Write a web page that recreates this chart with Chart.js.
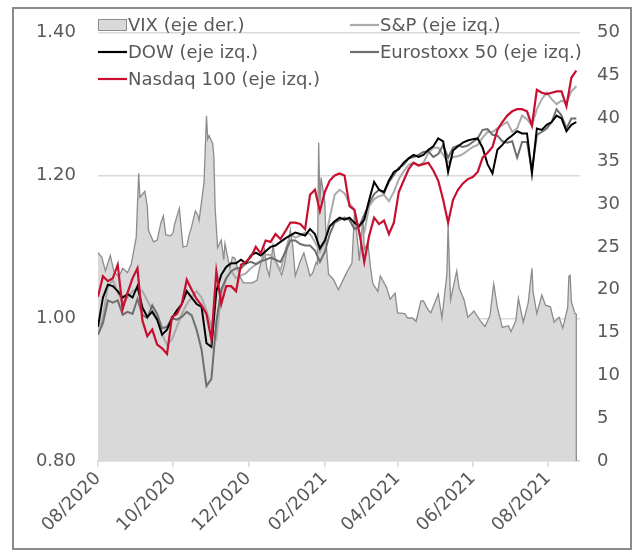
<!DOCTYPE html>
<html><head><meta charset="utf-8">
<script src="https://cdn.jsdelivr.net/npm/chart.js@4.4.0/dist/chart.umd.min.js"></script>
<style>
html,body{margin:0;padding:0;background:#fff;}
#wrap{position:relative;width:639px;height:557px;}
#frame{position:absolute;left:12px;top:7px;width:620px;height:543px;border:2px solid #8a8a8a;box-sizing:border-box;}
canvas{position:absolute;left:0;top:0;}
</style></head><body>
<div id="wrap"><div id="frame"></div><canvas id="c" width="639" height="557"></canvas></div>
<script>
const startDate = '2020-08-01';
const endDate = '2021-08-27';
const tickDates = ['2020-08-01','2020-10-01','2020-12-01','2021-02-01','2021-04-01','2021-06-01','2021-08-01'];
const tickLabels = ['08/2020','10/2020','12/2020','02/2021','04/2021','06/2021','08/2021'];
const leftTicks = [0.80, 1.00, 1.20, 1.40];

const seriesNames = ['VIX (eje der.)','S&P (eje izq.)','DOW (eje izq.)','Eurostoxx 50 (eje izq.)','Nasdaq 100 (eje izq.)'];

const vixDates = ['2020-07-31','2020-08-04','2020-08-07','2020-08-11','2020-08-14','2020-08-18','2020-08-21','2020-08-25','2020-08-28','2020-09-01','2020-09-03','2020-09-04','2020-09-08','2020-09-10','2020-09-11','2020-09-15','2020-09-18','2020-09-21','2020-09-23','2020-09-25','2020-09-29','2020-10-01','2020-10-02','2020-10-06','2020-10-08','2020-10-09','2020-10-12','2020-10-14','2020-10-16','2020-10-19','2020-10-21','2020-10-22','2020-10-26','2020-10-28','2020-10-29','2020-10-30','2020-11-02','2020-11-03','2020-11-04','2020-11-06','2020-11-09','2020-11-11','2020-11-12','2020-11-16','2020-11-18','2020-11-20','2020-11-24','2020-11-27','2020-12-01','2020-12-04','2020-12-08','2020-12-10','2020-12-14','2020-12-16','2020-12-18','2020-12-21','2020-12-23','2020-12-28','2020-12-30','2021-01-04','2021-01-06','2021-01-08','2021-01-12','2021-01-15','2021-01-20','2021-01-22','2021-01-25','2021-01-26','2021-01-27','2021-01-28','2021-01-29','2021-02-01','2021-02-02','2021-02-04','2021-02-08','2021-02-12','2021-02-17','2021-02-19','2021-02-23','2021-02-25','2021-02-26','2021-03-01','2021-03-04','2021-03-05','2021-03-08','2021-03-10','2021-03-12','2021-03-16','2021-03-18','2021-03-23','2021-03-26','2021-03-30','2021-04-01','2021-04-07','2021-04-09','2021-04-13','2021-04-16','2021-04-20','2021-04-22','2021-04-26','2021-04-28','2021-05-04','2021-05-07','2021-05-11','2021-05-12','2021-05-13','2021-05-14','2021-05-19','2021-05-21','2021-05-25','2021-05-28','2021-06-02','2021-06-07','2021-06-11','2021-06-15','2021-06-18','2021-06-21','2021-06-25','2021-06-30','2021-07-02','2021-07-06','2021-07-08','2021-07-12','2021-07-16','2021-07-19','2021-07-20','2021-07-23','2021-07-27','2021-07-30','2021-08-03','2021-08-06','2021-08-10','2021-08-13','2021-08-17','2021-08-18','2021-08-19','2021-08-20','2021-08-23','2021-08-24'];
const vixValues = [24.5,23.8,22.2,24.0,22.1,21.5,22.5,22.0,23.0,26.1,33.6,30.8,31.5,29.7,26.9,25.6,25.8,27.8,28.6,26.4,26.3,26.7,27.6,29.5,26.4,25.0,25.1,26.4,27.4,29.2,28.7,28.1,32.5,40.3,37.6,38.0,37.1,35.6,29.6,24.9,25.8,23.5,25.4,22.5,23.8,23.7,21.6,20.8,20.8,20.8,21.1,22.5,24.7,22.5,21.6,25.2,23.3,21.7,22.8,27.0,25.1,21.6,23.3,24.3,21.6,21.9,23.2,23.0,37.2,30.2,33.1,30.2,25.6,21.8,21.2,20.0,21.5,22.1,23.1,28.9,28.0,23.4,28.6,24.7,25.5,22.6,20.7,19.8,21.6,20.3,18.9,19.6,17.3,17.2,16.7,16.7,16.3,18.7,18.7,17.6,17.3,19.5,16.7,21.8,27.6,23.1,18.8,22.2,20.2,18.8,16.8,17.5,16.4,15.7,17.0,20.7,17.9,15.6,15.8,15.1,16.4,19.0,16.2,18.5,22.5,19.7,17.2,19.4,18.2,18.0,16.2,16.8,15.5,17.9,21.6,21.7,18.6,17.2,17.2];

const stockDates = ['2020-08-01','2020-08-05','2020-08-09','2020-08-13','2020-08-17','2020-08-21','2020-08-25','2020-08-29','2020-09-02','2020-09-06','2020-09-10','2020-09-14','2020-09-18','2020-09-22','2020-09-26','2020-09-30','2020-10-04','2020-10-08','2020-10-12','2020-10-16','2020-10-20','2020-10-24','2020-10-28','2020-11-01','2020-11-05','2020-11-09','2020-11-13','2020-11-17','2020-11-21','2020-11-25','2020-11-29','2020-12-03','2020-12-07','2020-12-11','2020-12-15','2020-12-19','2020-12-23','2020-12-27','2020-12-31','2021-01-04','2021-01-08','2021-01-12','2021-01-16','2021-01-20','2021-01-24','2021-01-28','2021-02-01','2021-02-05','2021-02-09','2021-02-13','2021-02-17','2021-02-21','2021-02-25','2021-03-01','2021-03-05','2021-03-09','2021-03-13','2021-03-17','2021-03-21','2021-03-25','2021-03-29','2021-04-02','2021-04-06','2021-04-10','2021-04-14','2021-04-18','2021-04-22','2021-04-26','2021-04-30','2021-05-04','2021-05-08','2021-05-12','2021-05-16','2021-05-20','2021-05-24','2021-05-28','2021-06-01','2021-06-05','2021-06-09','2021-06-13','2021-06-17','2021-06-21','2021-06-25','2021-06-29','2021-07-03','2021-07-07','2021-07-11','2021-07-15','2021-07-19','2021-07-23','2021-07-27','2021-07-31','2021-08-04','2021-08-08','2021-08-12','2021-08-16','2021-08-20','2021-08-24'];

const sp = [0.977,1.002,1.045,1.054,1.036,1.022,1.029,1.038,1.041,1.038,1.025,1.011,1.002,0.977,0.963,0.970,0.988,1.006,1.020,1.029,1.038,1.029,1.011,0.988,0.972,1.034,1.056,1.066,1.056,1.060,1.063,1.070,1.075,1.079,1.089,1.089,1.082,1.066,1.095,1.118,1.113,1.116,1.120,1.118,1.107,1.093,1.107,1.141,1.173,1.180,1.175,1.161,1.152,1.118,1.120,1.157,1.167,1.171,1.173,1.164,1.177,1.195,1.206,1.215,1.218,1.214,1.218,1.232,1.239,1.239,1.229,1.218,1.226,1.227,1.230,1.235,1.240,1.243,1.253,1.261,1.261,1.266,1.271,1.275,1.261,1.266,1.284,1.279,1.270,1.293,1.307,1.316,1.307,1.300,1.305,1.302,1.318,1.325];

const dow = [0.988,1.029,1.047,1.045,1.038,1.029,1.034,1.029,1.045,1.015,1.002,1.009,0.998,0.977,0.984,1.000,1.011,1.020,1.038,1.029,1.020,1.016,0.965,0.960,1.038,1.061,1.072,1.077,1.077,1.082,1.077,1.088,1.092,1.088,1.094,1.100,1.102,1.107,1.112,1.116,1.120,1.118,1.116,1.125,1.118,1.098,1.109,1.129,1.136,1.141,1.138,1.141,1.134,1.129,1.138,1.166,1.191,1.180,1.177,1.193,1.205,1.209,1.218,1.224,1.229,1.226,1.229,1.236,1.241,1.252,1.248,1.205,1.235,1.241,1.246,1.249,1.251,1.252,1.239,1.216,1.203,1.236,1.243,1.251,1.256,1.262,1.259,1.259,1.203,1.266,1.264,1.271,1.275,1.284,1.280,1.262,1.271,1.275];

const stoxx = [0.977,0.993,1.025,1.022,1.025,1.005,1.009,1.006,1.027,1.005,1.000,1.018,1.006,0.986,0.988,1.000,0.998,1.002,1.009,1.004,0.984,0.956,0.905,0.915,0.995,1.040,1.056,1.066,1.070,1.070,1.077,1.079,1.076,1.080,1.082,1.085,1.082,1.079,1.093,1.109,1.109,1.104,1.102,1.102,1.095,1.079,1.093,1.118,1.134,1.138,1.141,1.138,1.125,1.129,1.145,1.161,1.174,1.180,1.175,1.191,1.201,1.211,1.215,1.224,1.226,1.229,1.233,1.234,1.226,1.230,1.243,1.225,1.239,1.242,1.240,1.242,1.247,1.252,1.264,1.265,1.257,1.256,1.248,1.246,1.248,1.225,1.247,1.247,1.207,1.257,1.261,1.266,1.275,1.293,1.284,1.266,1.280,1.280];

const ndx = [1.030,1.059,1.052,1.056,1.075,1.013,1.036,1.056,1.070,0.997,0.975,0.984,0.963,0.958,0.950,1.002,1.006,1.020,1.054,1.040,1.027,1.018,1.006,0.970,1.066,1.020,1.045,1.045,1.038,1.075,1.079,1.086,1.100,1.091,1.109,1.107,1.118,1.111,1.122,1.134,1.134,1.132,1.125,1.173,1.180,1.150,1.177,1.193,1.200,1.203,1.200,1.157,1.152,1.120,1.079,1.116,1.141,1.132,1.137,1.118,1.134,1.177,1.193,1.209,1.218,1.214,1.216,1.218,1.207,1.193,1.166,1.134,1.166,1.180,1.189,1.195,1.198,1.205,1.225,1.232,1.240,1.264,1.275,1.284,1.290,1.293,1.293,1.290,1.270,1.320,1.316,1.314,1.316,1.318,1.318,1.297,1.337,1.347];

const dayNum = s => Math.round((Date.parse(s + 'T00:00:00Z') - Date.parse(startDate + 'T00:00:00Z')) / 86400000);
const tickDays = tickDates.map(dayNum);
const toPts = (dates, vals) => dates.map((d, i) => ({x: dayNum(d), y: vals[i]}));

const COLORS = {vixFill:'#d9d9d9', vixLine:'#8c8c8c', sp:'#aaaaaa', dow:'#000000', stoxx:'#6e6e6e', ndx:'#c8102e', text:'#595959', grid:'#d9d9d9'};

Chart.defaults.font.family = '"DejaVu Sans", Verdana, sans-serif';
Chart.defaults.font.size = 18;
Chart.defaults.color = COLORS.text;

const legendPlugin = {
  id: 'customLegend',
  afterDatasetDraw(chart, args) {
    // close the VIX area with its right-hand edge, as in the original
    if (args.index !== 0) return;
    const meta = args.meta;
    const pts = meta.data;
    const last = pts[pts.length - 1];
    const ctx = chart.ctx;
    ctx.save();
    ctx.strokeStyle = COLORS.vixLine;
    ctx.lineWidth = 1.3;
    ctx.beginPath();
    ctx.moveTo(last.x, last.y);
    ctx.lineTo(last.x, chart.scales.y2.getPixelForValue(0));
    ctx.stroke();
    ctx.restore();
  },
  afterDatasetsDraw(chart) {
    const ctx = chart.ctx;
    const L = chart.chartArea.left;
    const col2 = L + 252;
    const rows = [25, 52, 79];
    const items = [
      {t: seriesNames[0], x: L, y: rows[0], box: true},
      {t: seriesNames[1], x: col2, y: rows[0], c: COLORS.sp},
      {t: seriesNames[2], x: L, y: rows[1], c: COLORS.dow},
      {t: seriesNames[3], x: col2, y: rows[1], c: COLORS.stoxx},
      {t: seriesNames[4], x: L, y: rows[2], c: COLORS.ndx}
    ];
    ctx.save();
    ctx.font = '18px "DejaVu Sans", Verdana, sans-serif';
    ctx.textBaseline = 'middle';
    ctx.textAlign = 'left';
    items.forEach(it => {
      if (it.box) {
        ctx.fillStyle = COLORS.vixFill;
        ctx.fillRect(it.x + 0.5, it.y - 5.5, 28, 11);
        ctx.strokeStyle = COLORS.vixLine;
        ctx.lineWidth = 1;
        ctx.strokeRect(it.x + 0.5, it.y - 5.5, 28, 11);
      } else {
        ctx.strokeStyle = it.c;
        ctx.lineWidth = 2.2;
        ctx.beginPath();
        ctx.moveTo(it.x, it.y);
        ctx.lineTo(it.x + 29, it.y);
        ctx.stroke();
      }
      ctx.fillStyle = COLORS.text;
      ctx.fillText(it.t, it.x + 30, it.y + 1);
    });
    ctx.restore();
  }
};

const lineDs = (label, vals, color, order, width) => ({
  label, data: toPts(stockDates, vals), borderColor: color, backgroundColor: color,
  borderWidth: width, pointRadius: 0, tension: 0, fill: false, yAxisID: 'y', order
});

new Chart(document.getElementById('c'), {
  type: 'line',
  data: {
    datasets: [
      {label: seriesNames[0], data: toPts(vixDates, vixValues), yAxisID: 'y2', fill: 'origin',
       backgroundColor: COLORS.vixFill, borderColor: COLORS.vixLine, borderWidth: 1.3, pointRadius: 0, tension: 0, order: 10},
      lineDs(seriesNames[1], sp, COLORS.sp, 5, 2),
      lineDs(seriesNames[3], stoxx, COLORS.stoxx, 4, 2),
      lineDs(seriesNames[2], dow, COLORS.dow, 3, 2),
      lineDs(seriesNames[4], ndx, COLORS.ndx, 1, 2.2)
    ]
  },
  options: {
    responsive: false, animation: false, devicePixelRatio: 1,
    layout: {padding: {top: 22, left: 0, right: 0, bottom: 0}},
    plugins: {legend: {display: false}, tooltip: {enabled: false}},
    scales: {
      x: {
        type: 'linear', min: 0, max: dayNum(endDate),
        afterBuildTicks: s => { s.ticks = tickDays.map(v => ({value: v})); },
        afterFit: s => { s.height = 96; },
        ticks: {autoSkip: false, maxRotation: 45, minRotation: 45, padding: 1,
          callback: (v, i) => tickLabels[i]},
        grid: {drawOnChartArea: false, drawTicks: true, tickLength: 6, color: COLORS.grid, lineWidth: 1.5},
        border: {display: true, color: COLORS.grid, width: 1.5}
      },
      y: {
        position: 'left', min: 0.8, max: 1.4,
        afterBuildTicks: s => { s.ticks = leftTicks.map(v => ({value: v})); },
        afterFit: s => { s.width = 98; },
        ticks: {padding: 22, callback: v => Number(v).toFixed(2)},
        grid: {color: COLORS.grid, lineWidth: 1.5, drawTicks: false},
        border: {display: false}
      },
      y2: {
        position: 'right', min: 0, max: 50,
        ticks: {stepSize: 5, padding: 17},
        afterFit: s => { s.width = 59; },
        grid: {display: false, drawTicks: false},
        border: {display: false}
      }
    }
  },
  plugins: [legendPlugin]
});
</script>
</body></html>
